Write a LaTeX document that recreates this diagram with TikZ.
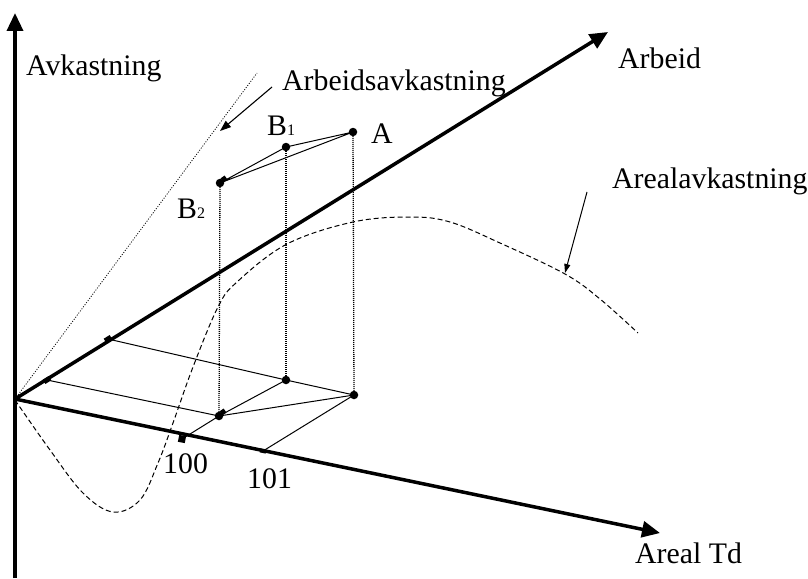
\documentclass[tikz,border=0pt]{standalone}
\usepackage{fontspec}
\setmainfont{Liberation Serif}
\usetikzlibrary{arrows.meta}
\begin{document}
\begin{tikzpicture}[x=1pt,y=-1pt,
  axis/.style={line width=3.5pt,-{Triangle[length=18pt,width=16pt]}},
  thinline/.style={line width=1pt},
  drop/.style={line width=1.3pt,dash pattern=on 1pt off 1pt},
  dot/.style={circle,fill,inner sep=0pt,minimum size=8.5pt},
  lbl/.style={anchor=base west,inner sep=0pt,font=\fontsize{29.8}{34}\selectfont},
  tickmark/.style={rectangle,fill,inner sep=0pt,minimum width=7pt,minimum height=5pt},
  ptr/.style={line width=1.1pt,-{Triangle[length=11pt,width=8pt]}}
]
\useasboundingbox (0,0) rectangle (808,578);

% coordinates
\coordinate (O) at (15,399);
\coordinate (Vbot) at (15,578);
\coordinate (Vtop) at (15,13);
\coordinate (Wtip) at (608,32);
\coordinate (Ltip) at (660,533);
\coordinate (Gend) at (257,73);

% area yield curve (dashed)
\draw[line width=1pt,dash pattern=on 5pt off 3pt] plot[smooth,tension=0.6] coordinates {
 (15,400) (50,450) (83,493) (113,512) (140,500) (158,463) (173,423) (193,367)
 (218,307) (237,282) (287,244) (353,222) (410,217) (450,222) (500,243) (565,274) (600,299) (638,333)};

% labour yield line (dotted)
\draw[line width=0.8pt,dash pattern=on 1pt off 1.6pt] (O) -- (Gend);

% points
\node[dot] (A) at (353,132) {};
\node[dot] (B1) at (286,147) {};
\node[dot] (B2) at (220,183) {};
\node[dot] (Ap) at (354,395) {};
\node[dot] (B1p) at (286,380) {};
\node[dot] (B2p) at (219,416) {};
\node[rectangle,fill,inner sep=0pt,minimum size=5pt,rotate=35] (B2m) at (224,179) {};
\node[rectangle,fill,inner sep=0pt,minimum size=5pt,rotate=35] (B2pm) at (223,412) {};

% ticks
\node[tickmark,rotate=31.8] (T1) at (47,380) {};
\node[tickmark,rotate=31.8] (T2) at (108,339) {};
\node[tickmark,rotate=-11.7,minimum width=7pt,minimum height=7pt] (T100) at (182,439) {};
\node[tickmark,rotate=-11.7,minimum width=6pt,minimum height=4pt] (T101) at (263,451) {};

% drops
\draw[drop] (A.center) -- (Ap.center);
\draw[drop] (B1.center) -- (B1p.center);
\draw[drop] (B2.center) -- (B2p.center);

% top triangle
\draw[thinline] (A.center) -- (B1.center) -- (B2.center) -- cycle;

% floor lines
\draw[thinline] (T2.center) -- (B1p.center) -- (Ap.center);
\draw[thinline] (T1.center) -- (B2p.center);
\draw[thinline] (T100.center) -- (B2p.center) -- (B1p.center);
\draw[thinline] (T101.center) -- (Ap.center);
\draw[thinline] (B2p.center) -- (Ap.center);

% axes
\draw[axis] (Vbot) -- (Vtop);
\draw[axis] (O) -- (Wtip);
\draw[axis] (O) -- (Ltip);

% labels
\node[lbl] (lAvk) at (26,75) {Avkastning};
\node[lbl] (lArbA) at (282,90) {Arbeidsavkastning};
\node[lbl] (lArb) at (618,68) {Arbeid};
\node[lbl] (lAreA) at (612,188) {Arealavkastning};
\node[lbl] (lTd) at (635,563) {Areal Td};
\node[lbl] (lA) at (371,143) {A};
\node[lbl] (lB1) at (267,135) {B{\fontsize{16}{16}\selectfont 1}};
\node[lbl] (lB2) at (177,218) {B{\fontsize{16}{16}\selectfont 2}};
\node[lbl] (l100) at (163,473) {100};
\node[lbl] (l101) at (247,488) {101};

% pointer arrows
\coordinate (p1s) at (272,87);
\coordinate (p1e) at (220,131);
\coordinate (p2s) at (587,192);
\coordinate (p2e) at (565,273);
\draw[ptr] (p1s) -- (p1e);
\draw[ptr,line width=1pt,-{Triangle[length=9pt,width=6pt]}] (p2s) -- (p2e);
\end{tikzpicture}
\end{document}
